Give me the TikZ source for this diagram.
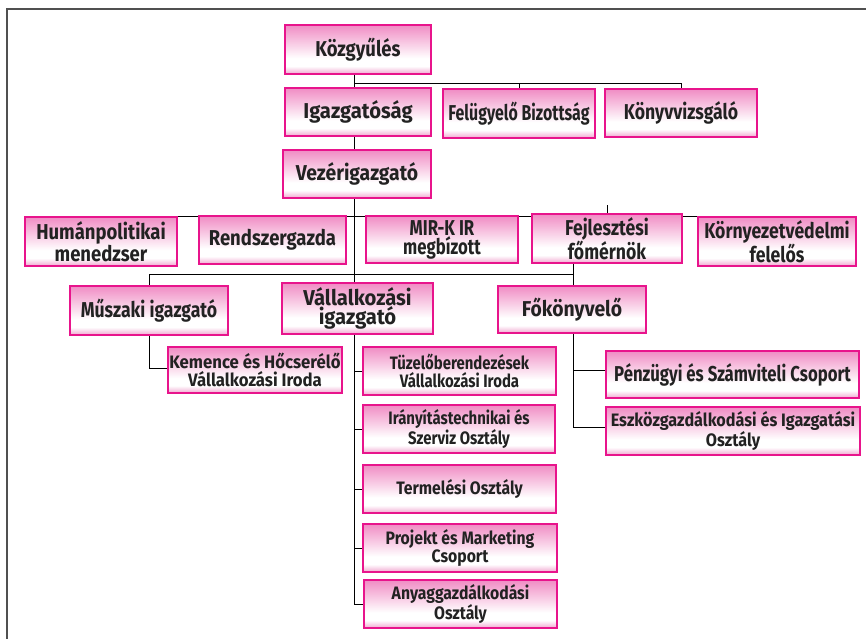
\documentclass[tikz,border=0pt]{standalone}
\usepackage{fontspec}
\setmainfont{Fira Sans}[FakeStretch=0.80]
\newfontfamily\fsB{Fira Sans}[FakeStretch=0.74]
\newfontfamily\fsC{Fira Sans}[FakeStretch=0.78]
\newfontfamily\fsD{Fira Sans}[FakeStretch=0.82]
\newfontfamily\fsE{Fira Sans}[FakeStretch=0.86]
\newfontfamily\fsF{Fira Sans}[FakeStretch=0.90]
\newfontfamily\fsG{Fira Sans}[FakeStretch=0.94]
\newfontfamily\fsH{Fira Sans}[FakeStretch=0.83]
\newfontfamily\fsI{Fira Sans}[FakeStretch=0.875]
\newfontfamily\fsK{Fira Sans}[FakeStretch=0.93]
\newcommand{\upsz}{\fontsize{21.5}{16}\selectfont}
\newcommand{\losz}{\fontsize{18}{18}\selectfont}
\usetikzlibrary{calc,backgrounds}
\definecolor{boxpink}{RGB}{240,140,196}
\definecolor{boxpinkb}{RGB}{240,168,208}
\definecolor{boxedge}{RGB}{232,20,140}
\definecolor{linegray}{RGB}{182,182,182}
\definecolor{framegray}{RGB}{80,80,80}
\definecolor{txt}{RGB}{34,34,34}
\pgfdeclareverticalshading{boxshade}{100bp}{%
  color(0bp)=(boxpinkb); color(25bp)=(boxpinkb); color(33bp)=(white);
  color(41bp)=(white); color(75bp)=(boxpink); color(100bp)=(boxpink)}
\tikzset{
  orgbox/.style={draw=boxedge, line width=1.3pt, shading=boxshade,
    inner sep=0pt, align=center, text=txt},
  conn/.style={draw=linegray, line width=3pt},
  frame/.style={draw=framegray, line width=2pt}
}
\newcommand{\obox}[7]{% name, cx, cy, w, h, font, text
  \node[orgbox, minimum width=#4pt, minimum height=#5pt,
    font=#6\bfseries] (#1) at (#2,#3) {#7};}
\begin{document}
\begin{tikzpicture}[x=1pt,y=-1pt]
\useasboundingbox (0,0) rectangle (866,639);
% frame
\coordinate (fr0) at (7,9);
\coordinate (fr1) at (866,9);
\coordinate (fr2) at (7,639);
\draw[frame] (fr1) -- (fr0) -- (fr2);

% trunk coordinates
\coordinate (tA) at (354,83);
\coordinate (tB) at (354,205);
\coordinate (tC) at (354,274);
\coordinate (fA) at (573,274);
\coordinate (mA) at (149,368);

\obox{kozgy}{358}{49.5}{146}{49}{\fsE\upsz}{Közgyűlés}
\obox{igaz}{358}{112}{146}{48}{\fsG\upsz}{Igazgatóság}
\obox{felu}{519}{113.5}{152}{49}{\fsB\upsz}{Felügyelő Bizottság}
\obox{konyv}{681}{113}{152}{48}{\fsD\upsz}{Könyvvizsgáló}
\obox{vezer}{357}{174}{148}{48}{\fsF\upsz}{Vezérigazgató}
\obox{human}{101}{241.5}{152}{49}{\fsE\upsz}{Humánpolitikai\\menedzser}
\obox{rendsz}{272.5}{240}{147}{48}{\fsE\upsz}{Rendszergazda}
\obox{mir}{442}{239.5}{152}{47}{\fsC\upsz}{MIR-K IR\\megbízott}
\obox{fejl}{607}{238.5}{150}{49}{\fsD\upsz}{Fejlesztési\\főmérnök}
\obox{korny}{777}{241.5}{158}{49}{\fsD\upsz}{Környezetvédelmi\\felelős}
\obox{muszaki}{149}{310.5}{158}{49}{\fsD\upsz}{Műszaki igazgató}
\obox{vall}{357.5}{308.5}{151}{51}{\fsG\upsz}{Vállalkozási\\igazgató}
\obox{fokonyv}{572}{309.5}{148}{47}{\fsF\upsz}{Főkönyvelő}
\obox{kemence}{255}{370}{174}{46}{\fsK\losz}{Kemence és Hőcserélő\\Vállalkozási Iroda}
\obox{tuzelo}{459.5}{371}{193}{48}{\fsH\losz}{Tüzelőberendezések\\Vállalkozási Iroda}
\obox{iranyit}{459}{429}{192}{48}{\fsH\losz}{Irányítástechnikai és\\Szerviz Osztály}
\obox{termel}{459.5}{489}{193}{48}{\fsI\losz}{Termelési Osztály}
\obox{projekt}{460}{548}{194}{48}{\fsI\losz}{Projekt és Marketing\\Csoport}
\obox{anyag}{460.5}{604}{193}{48}{\fsI\losz}{Anyaggazdálkodási\\Osztály}
\obox{penz}{732.5}{374.5}{253}{47}{\fsC\upsz}{Pénzügyi és Számviteli Csoport}
\obox{eszkoz}{733}{431}{254}{48}{\fsF\losz}{Eszközgazdálkodási és Igazgatási\\Osztály}

% connectors (beneath boxes)
\begin{scope}[on background layer, conn]
% level 1
\draw (kozgy.south -| tA) -- (igaz.north -| tA);
\draw (tA) -- (konyv.north |- tA) -- (konyv.north);
\draw (felu.north |- tA) -- (felu.north);
\draw (igaz.south -| tA) -- (vezer.north -| tA);
% level 2
\draw (vezer.south -| tB) -- (vall.north -| tB);
\draw ($(human.north)+(44,0)$ |- tB) -- ($(korny.north)+(-2,0)$ |- tB);
\draw ($(human.north)+(44,0)$ |- tB) -- ($(human.north)+(44,0)$);
\draw ($(rendsz.north)+(-2.5,0)$ |- tB) -- ($(rendsz.north)+(-2.5,0)$);
\draw ($(mir.north)+(-2,0)$ |- tB) -- ($(mir.north)+(-2,0)$);
\draw (fejl.north |- tB) -- (fejl.north);
\draw ($(korny.north)+(-2,0)$ |- tB) -- ($(korny.north)+(-2,0)$);
% level 3
\draw (fejl.south -| fA) -- (fokonyv.north -| fA);
\draw (muszaki.north |- tC) -- (fA);
\draw (muszaki.north |- tC) -- (muszaki.north);
% Muszaki
\draw (muszaki.south) -- (mA) -- (kemence.west |- mA);
% Vallalkozasi trunk
\draw (vall.south -| tC) -- (anyag.west -| tC) -- (anyag.west);
\draw (tuzelo.west -| tC) -- (tuzelo.west);
\draw (iranyit.west -| tC) -- (iranyit.west);
\draw (termel.west -| tC) -- (termel.west);
\draw (projekt.west -| tC) -- (projekt.west);
% Fokonyvelo
\draw (fokonyv.south -| fA) -- ($(eszkoz.west -| fA)+(0,-4)$) -- ($(eszkoz.west)+(0,-4)$);
\draw ($(penz.west -| fA)+(0,-4.5)$) -- ($(penz.west)+(0,-4.5)$);
\end{scope}
\end{tikzpicture}
\end{document}
